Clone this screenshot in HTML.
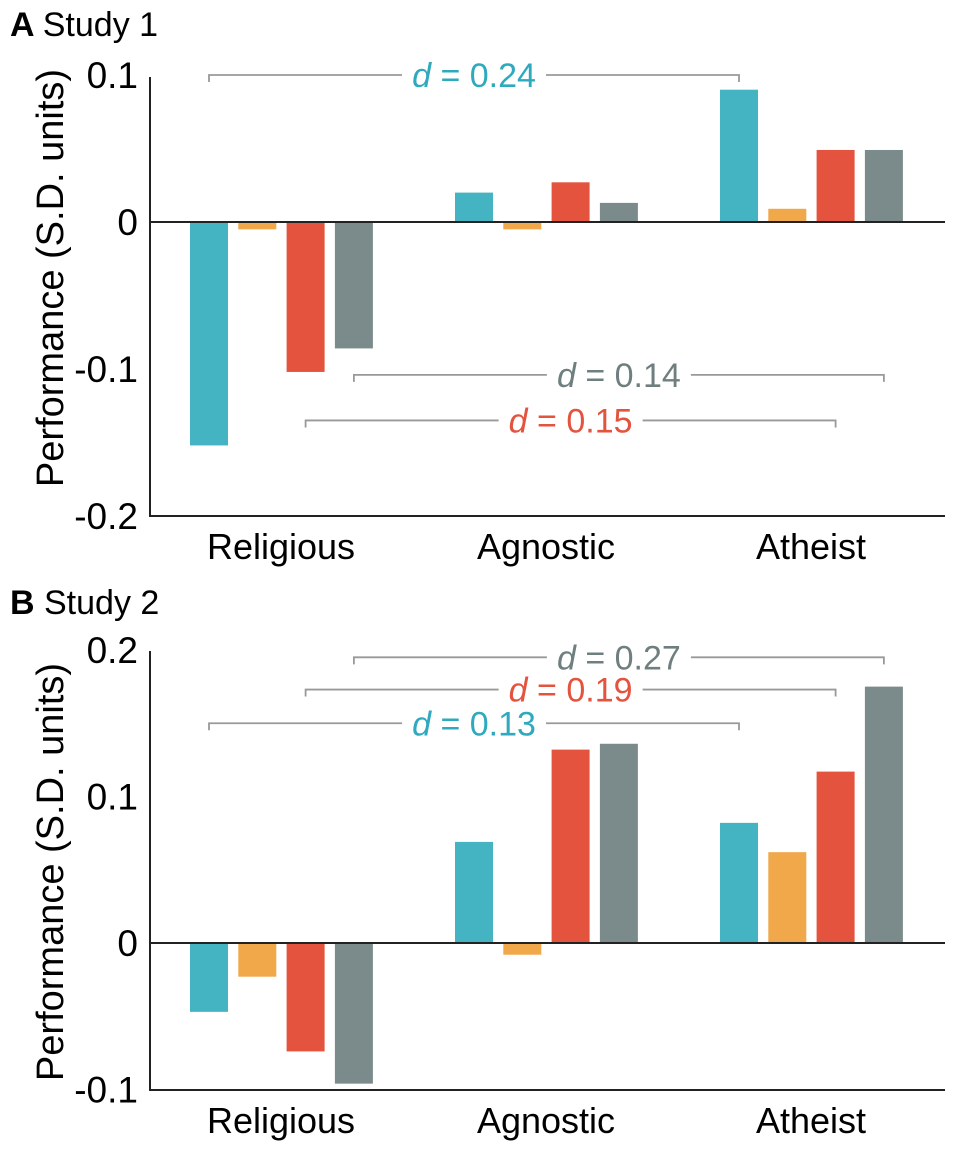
<!DOCTYPE html>
<html><head><meta charset="utf-8"><style>
html,body{margin:0;padding:0;background:#fff;}
svg{display:block;font-family:"Liberation Sans",sans-serif;}
</style></head><body>
<svg id="chart" width="957" height="1161" viewBox="0 0 957 1161"></svg>
<script>
const categories = ["Religious","Agnostic","Atheist"];
const colors = ["#44b3c2","#f0a84a","#e3533e","#7b8b8b"];
const study1Values = [[-0.152,-0.005,-0.102,-0.086],[0.020,-0.005,0.027,0.013],[0.090,0.009,0.049,0.049]];
const study2Values = [[-0.047,-0.023,-0.074,-0.096],[0.069,-0.008,0.132,0.136],[0.082,0.062,0.117,0.175]];
const study1Ticks = [0.1,0,-0.1,-0.2];
const study2Ticks = [0.2,0.1,0,-0.1];
const study1Effects = [{label:"0.24",color:"#2fa9bd",from:[0,0],to:[2,0],level:0.1},{label:"0.14",color:"#6f7f7f",from:[0,3],to:[2,3],level:-0.104},{label:"0.15",color:"#e3533e",from:[0,2],to:[2,2],level:-0.135}];
const study2Effects = [{label:"0.27",color:"#6f7f7f",from:[0,3],to:[2,3],level:0.195},{label:"0.19",color:"#e3533e",from:[0,2],to:[2,2],level:0.173},{label:"0.13",color:"#2fa9bd",from:[0,0],to:[2,0],level:0.150}];

const NS="http://www.w3.org/2000/svg";
const svg=document.getElementById('chart');
function mk(tag,attrs,parent){const e=document.createElementNS(NS,tag);for(const k in attrs)e.setAttribute(k,attrs[k]);(parent||svg).appendChild(e);return e;}

function panel(letter,title,titleY,values,ticks,effects,yTop,yZero,pxPerUnit,yBottom,yTitleC,id){
  const g=mk('g',{});
  
  
  const y=v=>yZero-v*pxPerUnit;
  const groupX=[190,455,720];
  const barX=(c,s)=>groupX[c]+s*48.3;
  const bw=38;
  const t=mk('text',{x:10,y:titleY,'font-size':34},g);
  
  
  const b=mk('tspan',{'font-weight':'bold'},t);b.textContent=letter+' ';
  const tt=mk('tspan',{},t);tt.textContent=title;
  const yl=mk('text',{x:0,y:0,'font-size':38,'text-anchor':'middle',transform:`translate(63,${yTitleC}) rotate(-90)`},g);
  yl.textContent="Performance (S.D. units)";
  
  
  ticks.forEach(v=>{
    const tx=mk('text',{x:138,y:y(v)+13,'font-size':37,'text-anchor':'end'},g);
    tx.textContent=(v===0?"0":String(v));
    
    
  });
  values.forEach((row,c)=>row.forEach((v,s)=>{
    const r=mk('rect',{x:barX(c,s),y:Math.min(y(v),yZero),width:bw,height:Math.abs(y(v)-yZero),fill:colors[s]},g);
    
    
  }));
  const ax=mk('path',{d:`M150,${yTop} V${yBottom} H945`,stroke:'#222',fill:'none','stroke-width':2},g);
  
  
  const zl=mk('line',{x1:150,x2:945,y1:yZero,y2:yZero,stroke:'#222','stroke-width':2},g);
  
  
  categories.forEach((c,i)=>{
    const tx=mk('text',{x:groupX[i]+91,y:yBottom+43,'font-size':36,'text-anchor':'middle'},g);
    tx.textContent=c;
    
    
  });
  effects.forEach(e=>{
    const x1=barX(e.from[0],e.from[1])+bw/2, x2=barX(e.to[0],e.to[1])+bw/2, yy=y(e.level);
    const mid=(x1+x2)/2;
    const hw=72;
    const p=mk('path',{d:`M${x1},${yy+7} V${yy} H${mid-hw} M${mid+hw},${yy} H${x2} V${yy+7}`,stroke:'#999','stroke-width':1.8,fill:'none'},g);
    
    
    const tx=mk('text',{x:mid,y:yy+12,'font-size':34,'text-anchor':'middle',fill:e.color},g);
    const i1=mk('tspan',{'font-style':'italic'},tx);i1.textContent='d';
    const i2=mk('tspan',{},tx);i2.textContent=' = '+e.label;
    
    
  });
}
panel('A','Study 1',36,study1Values,study1Ticks,study1Effects,77,222,1470,516,278,'study1');
panel('B','Study 2',614,study2Values,study2Ticks,study2Effects,651,943,1465,1090,872,'study2');
</script>
</body></html>
